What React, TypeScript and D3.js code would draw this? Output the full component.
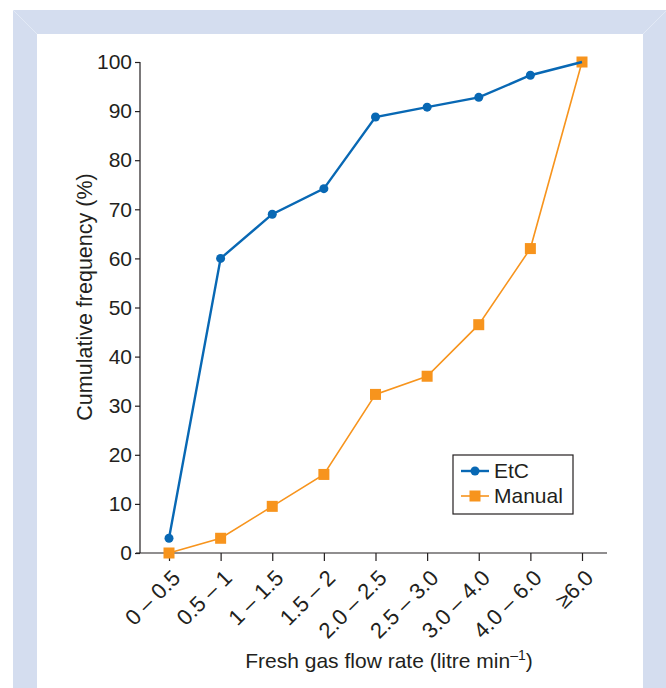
import React, { useEffect, useRef } from "react";
import * as d3 from "d3";

const categories = ["0 – 0.5", "0.5 – 1", "1 – 1.5", "1.5 – 2", "2.0 – 2.5", "2.5 – 3.0", "3.0 – 4.0", "4.0 – 6.0", "≥6.0"];
const etcValues = [3, 60, 69, 74.2, 88.8, 90.8, 92.8, 97.3, 100];
const manualValues = [0, 3, 9.5, 16, 32.3, 36, 46.5, 62, 100];
const yTicks = [0, 10, 20, 30, 40, 50, 60, 70, 80, 90, 100];

const App = () => {
  const ref = useRef<HTMLDivElement>(null);

  useEffect(() => {
    const width = 666;
    const height = 688;
    const font = "'Liberation Sans', Arial, sans-serif";
    const ink = "#231f20";
    const blue = "#0868b4";
    const orange = "#f7941d";

    d3.select(ref.current).selectAll("*").remove();

    const svg = d3
      .select(ref.current)
      .append("svg")
      .attr("width", width)
      .attr("height", height)
      .style("display", "block");

    // frame
    const frame = "#d4ddef";
    svg.append("rect").attr("width", width).attr("height", height).attr("fill", "#fff");
    svg.append("rect").attr("x", 13).attr("y", 10).attr("width", width - 13).attr("height", height - 10).attr("fill", frame);
    svg.append("rect").attr("x", 37).attr("y", 34).attr("width", 643 - 37).attr("height", height - 34).attr("fill", "#fff");
    svg.append("line").attr("x1", 13).attr("y1", 10).attr("x2", 37).attr("y2", 34).attr("stroke", "#e6ecf6").attr("stroke-width", 0.8);
    svg.append("line").attr("x1", 666).attr("y1", 11).attr("x2", 643).attr("y2", 34).attr("stroke", "#e6ecf6").attr("stroke-width", 0.8);

    const x = d3.scalePoint().domain(categories).range([169, 582]);
    const y = d3.scaleLinear().domain([0, 100]).range([553, 62]);

    // y axis
    const yAxis = svg
      .append("g")
      .attr("transform", "translate(140,0)")
      .call(d3.axisLeft(y).tickValues(yTicks).tickSize(5).tickPadding(3))
      .call((g) => g.select(".domain").remove());
    yAxis.selectAll("line").attr("stroke", ink).attr("stroke-width", 1.2);
    yAxis.selectAll("text").attr("font-family", font).attr("font-size", 21).attr("fill", ink);
    svg.append("line").attr("x1", 140).attr("x2", 140).attr("y1", 62).attr("y2", 553).attr("stroke", ink).attr("stroke-width", 1.2);

    // x axis
    svg.append("line").attr("x1", 136).attr("x2", 607).attr("y1", 553).attr("y2", 553).attr("stroke", ink).attr("stroke-width", 1.2);
    const xAxis = svg
      .append("g")
      .attr("transform", "translate(0,553)")
      .call(d3.axisBottom(x).tickSize(8).tickSizeOuter(0))
      .call((g) => g.select(".domain").remove());
    xAxis.selectAll("line").attr("stroke", ink).attr("stroke-width", 1.2);
    xAxis
      .selectAll("text")
      .attr("font-family", font)
      .attr("font-size", 22)
      .attr("fill", ink)
      .attr("text-anchor", "end")
      .attr("dy", "0.35em")
      .attr("transform", "translate(-1,13) rotate(-45)");

    // titles
    svg
      .append("text")
      .attr("transform", "translate(92,297) rotate(-90)")
      .attr("text-anchor", "middle")
      .attr("font-family", font)
      .attr("font-size", 21.5)
      .attr("fill", ink)
      .text("Cumulative frequency (%)");

    const xt = svg
      .append("text")
      .attr("x", 389)
      .attr("y", 668)
      .attr("text-anchor", "middle")
      .attr("font-family", font)
      .attr("font-size", 21)
      .attr("fill", ink);
    xt.append("tspan").text("Fresh gas flow rate (litre min");
    xt.append("tspan").attr("font-size", 14).attr("dy", -8).text("–1");
    xt.append("tspan").attr("dy", 8).text(")");

    const line = d3
      .line<number>()
      .x((_, i) => x(categories[i]) as number)
      .y((d) => y(d));

    // Manual series
    svg.append("path").datum(manualValues).attr("d", line).attr("fill", "none").attr("stroke", orange).attr("stroke-width", 1.6);
    svg
      .selectAll(".sq")
      .data(manualValues)
      .join("rect")
      .attr("x", (_, i) => (x(categories[i]) as number) - 5.5)
      .attr("y", (d) => y(d) - 5.5)
      .attr("width", 11)
      .attr("height", 11)
      .attr("fill", orange);

    // EtC series
    svg.append("path").datum(etcValues).attr("d", line).attr("fill", "none").attr("stroke", blue).attr("stroke-width", 2.4);
    svg
      .selectAll(".dot")
      .data(etcValues.slice(0, -1))
      .join("circle")
      .attr("cx", (_, i) => x(categories[i]) as number)
      .attr("cy", (d) => y(d))
      .attr("r", 4.5)
      .attr("fill", blue);

    // legend
    const lg = svg.append("g");
    lg.append("rect").attr("x", 453).attr("y", 455).attr("width", 120).attr("height", 59).attr("fill", "#fff").attr("stroke", ink).attr("stroke-width", 1.2);
    lg.append("line").attr("x1", 461).attr("x2", 489).attr("y1", 471).attr("y2", 471).attr("stroke", blue).attr("stroke-width", 2.4);
    lg.append("circle").attr("cx", 475).attr("cy", 471).attr("r", 4.5).attr("fill", blue);
    lg.append("line").attr("x1", 461).attr("x2", 489).attr("y1", 496).attr("y2", 496).attr("stroke", orange).attr("stroke-width", 1.6);
    lg.append("rect").attr("x", 469.5).attr("y", 490.5).attr("width", 11).attr("height", 11).attr("fill", orange);
    lg.append("text").attr("x", 494).attr("y", 478).attr("font-family", font).attr("font-size", 21).attr("fill", ink).text("EtC");
    lg.append("text").attr("x", 494).attr("y", 503).attr("font-family", font).attr("font-size", 21).attr("fill", ink).text("Manual");
  }, []);

  return <div ref={ref} style={{ position: "absolute", left: 0, top: 0 }}></div>;
};

export default App;
